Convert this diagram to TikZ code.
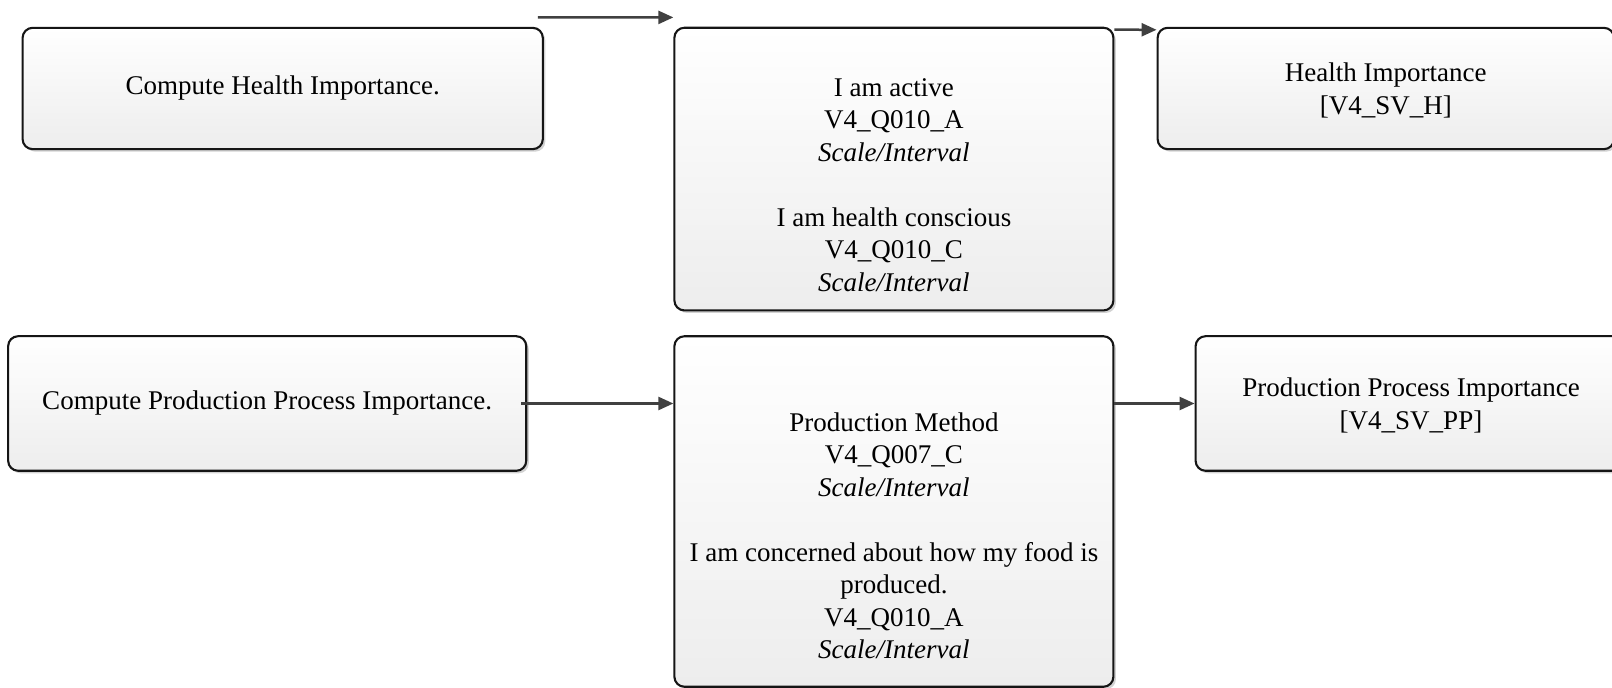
\documentclass[tikz,border=0pt]{standalone}
\usepackage{fontspec}
\setmainfont{Liberation Serif}
\usetikzlibrary{arrows.meta,shadows}
\definecolor{edge}{HTML}{151515}
\definecolor{arrowgray}{HTML}{404040}
\definecolor{shadegray}{HTML}{EDEDED}
\begin{document}
\begin{tikzpicture}[x=1pt,y=1pt,
  card/.style={draw=edge, line width=2.1pt, rounded corners=10pt,
    top color=white, bottom color=shadegray,
    drop shadow={shadow xshift=2.5pt, shadow yshift=-2.5pt, fill=black!35, opacity=0.5},
    inner sep=0pt, font=\fontsize{27}{32.5}\selectfont, align=center},
  cardtext/.style={inner sep=0pt, font=\fontsize{27}{32.5}\selectfont, align=center},
  flow/.style={draw=arrowgray, line width=2.5pt, -{Triangle[length=15pt,width=13pt]}}]

\useasboundingbox (0,0) rectangle (1612,688);

% upper row: health importance
\node[card, minimum width=520.2pt, minimum height=121.3pt] (A) at (282.7,599.5)
  {\raisebox{-2pt}{Compute Health Importance.}};
\node[card, minimum width=439pt, minimum height=282.7pt] (B) at (893.9,518.9) {};
\node[cardtext] (Btext) at (893.9,503)
  {I am active\\ V4\_Q010\_A\\ \textit{Scale/Interval}\\[32.5pt]
   I am health conscious\\ V4\_Q010\_C\\ \textit{Scale/Interval}};
\node[card, minimum width=456.4pt, minimum height=121.3pt] (C) at (1385.8,599.5) {};
\node[cardtext] (Ctext) at ([yshift=-2pt]C.center)
  {Health Importance\\ {[}V4\_SV\_H{]}};

% lower row: production process importance
\node[card, minimum width=518.1pt, minimum height=134.6pt] (D) at (267.2,284.5)
  {\raisebox{-2pt}{Compute Production Process Importance.}};
\node[card, minimum width=439pt, minimum height=350.5pt] (E) at (893.9,176.5) {};
\node[cardtext] (Etext) at (893.9,152)
  {Production Method\\ V4\_Q007\_C\\ \textit{Scale/Interval}\\[32.5pt]
   I am concerned about how my food is\\ produced.\\ V4\_Q010\_A\\ \textit{Scale/Interval}};
\node[card, minimum width=430.8pt, minimum height=134.6pt] (F) at (1411,284.5) {};
\node[cardtext] (Ftext) at ([yshift=-2pt]F.center)
  {Production Process Importance\\ {[}V4\_SV\_PP{]}};

% connectors
\coordinate (topstart) at ([xshift=-6pt,yshift=9.3pt]A.north east);
\coordinate (topend) at ([yshift=9.3pt]B.north west);
\draw[flow] (topstart) -- (topend);
\draw[flow] ([yshift=-3pt]B.north east) -- ([yshift=-3pt]C.north west);
\draw[flow] ([xshift=-6pt]D.east) -- (D.east -| E.west);
\draw[flow] (E.east |- F.west) -- (F.west);
\end{tikzpicture}
\end{document}
